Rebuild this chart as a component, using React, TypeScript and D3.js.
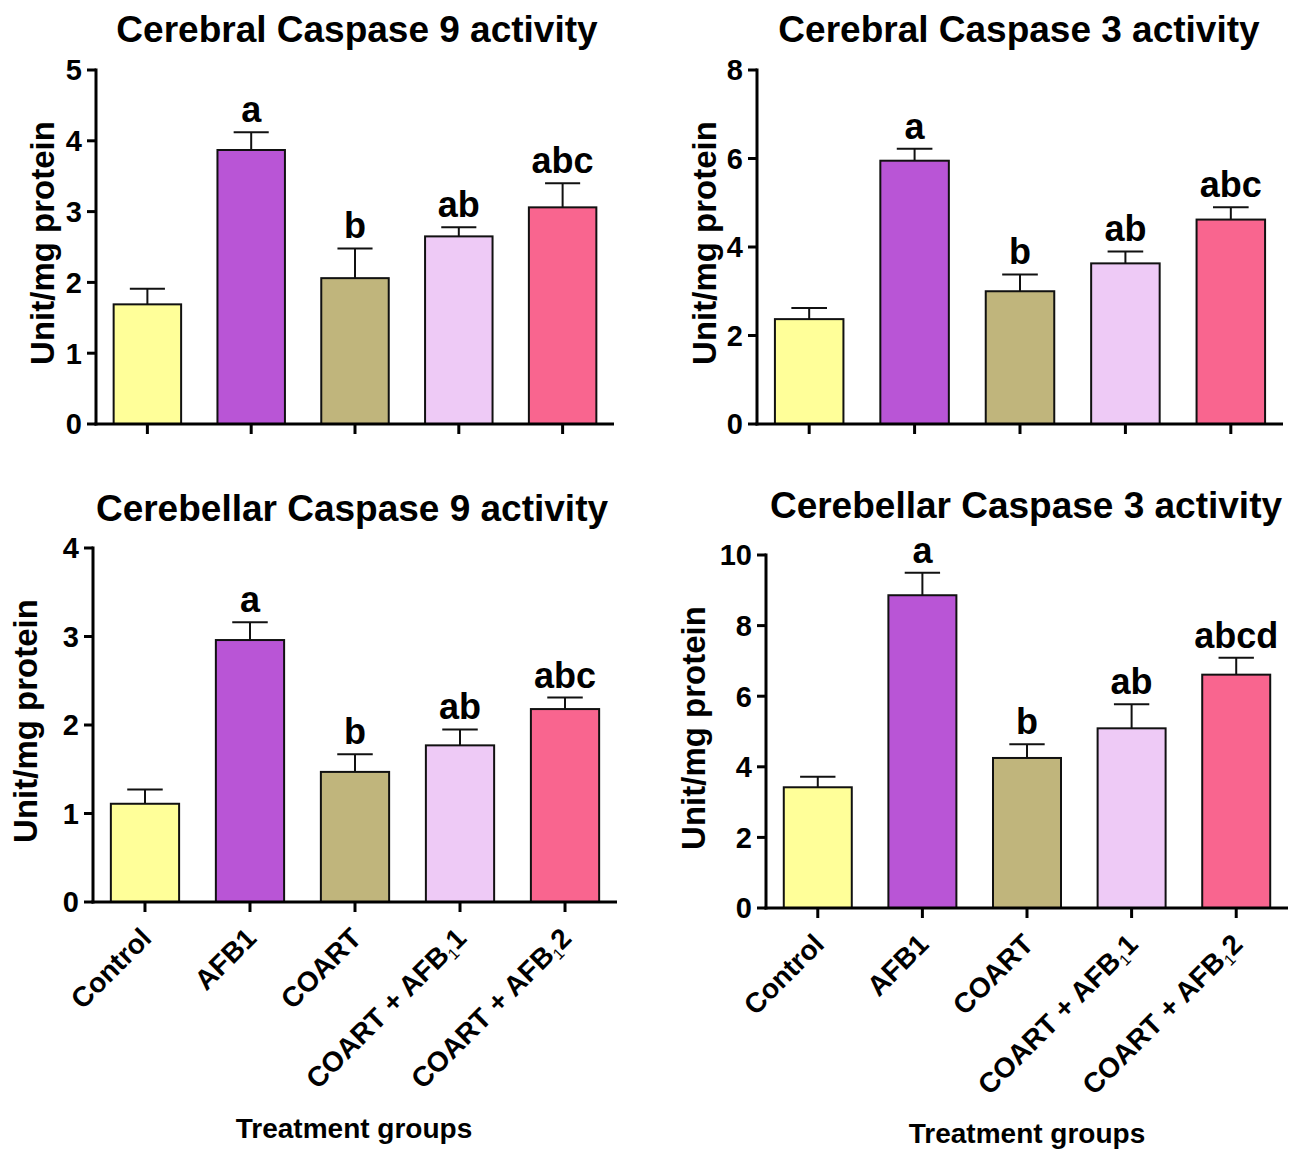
import React from "react";
import * as d3 from "d3";

// ---------- data ----------
const categories = ["Control", "AFB1", "COART", "COART + AFB11", "COART + AFB12"];
// label pieces: [main, subscript, tail]
const categoryLabelParts: [string, string, string][] = [
  ["Control", "", ""],
  ["AFB1", "", ""],
  ["COART", "", ""],
  ["COART + AFB", "1", "1"],
  ["COART + AFB", "1", "2"],
];
const barColors = ["#FFFF99", "#B955D6", "#C0B57C", "#EECAF6", "#F9658F"];

const cerebralCasp9Mean = [1.69, 3.87, 2.06, 2.65, 3.06];
const cerebralCasp9Err = [0.22, 0.25, 0.42, 0.13, 0.34];
const cerebralCasp9Letters = ["", "a", "b", "ab", "abc"];
const cerebralCasp9Ticks = [0, 1, 2, 3, 4, 5];

const cerebralCasp3Mean = [2.37, 5.95, 3.0, 3.63, 4.62];
const cerebralCasp3Err = [0.25, 0.27, 0.38, 0.27, 0.28];
const cerebralCasp3Letters = ["", "a", "b", "ab", "abc"];
const cerebralCasp3Ticks = [0, 2, 4, 6, 8];

const cerebellarCasp9Mean = [1.11, 2.96, 1.47, 1.77, 2.18];
const cerebellarCasp9Err = [0.16, 0.2, 0.2, 0.18, 0.13];
const cerebellarCasp9Letters = ["", "a", "b", "ab", "abc"];
const cerebellarCasp9Ticks = [0, 1, 2, 3, 4];

const cerebellarCasp3Mean = [3.42, 8.86, 4.25, 5.09, 6.61];
const cerebellarCasp3Err = [0.3, 0.64, 0.39, 0.68, 0.48];
const cerebellarCasp3Letters = ["", "a", "b", "ab", "abcd"];
const cerebellarCasp3Ticks = [0, 2, 4, 6, 8, 10];

const yAxisTitle = "Unit/mg protein";
const xAxisTitle = "Treatment groups";

// ---------- layout ----------
const FONT = "'Liberation Sans', Arial, Helvetica, sans-serif";

type Panel = {
  title: string;
  means: number[];
  errs: number[];
  letters: string[];
  ticks: number[];
  x0: number; x1: number; yBottom: number; yTop: number;
  titleX: number; titleY: number;
  ylabX: number; ylabY: number;
  xLabels: boolean; xTitleX: number; xTitleY: number;
};

const panels: Panel[] = [
  {
    title: "Cerebral Caspase 9 activity", means: cerebralCasp9Mean, errs: cerebralCasp9Err,
    letters: cerebralCasp9Letters, ticks: cerebralCasp9Ticks,
    x0: 96, x1: 614, yBottom: 424, yTop: 70, titleX: 357, titleY: 42,
    ylabX: 54, ylabY: 243, xLabels: false, xTitleX: 0, xTitleY: 0,
  },
  {
    title: "Cerebral Caspase 3 activity", means: cerebralCasp3Mean, errs: cerebralCasp3Err,
    letters: cerebralCasp3Letters, ticks: cerebralCasp3Ticks,
    x0: 757, x1: 1283, yBottom: 424, yTop: 70, titleX: 1019, titleY: 42,
    ylabX: 716, ylabY: 243, xLabels: false, xTitleX: 0, xTitleY: 0,
  },
  {
    title: "Cerebellar Caspase 9 activity", means: cerebellarCasp9Mean, errs: cerebellarCasp9Err,
    letters: cerebellarCasp9Letters, ticks: cerebellarCasp9Ticks,
    x0: 93, x1: 617, yBottom: 902, yTop: 548, titleX: 352, titleY: 521,
    ylabX: 37, ylabY: 721, xLabels: true, xTitleX: 354, xTitleY: 1138,
  },
  {
    title: "Cerebellar Caspase 3 activity", means: cerebellarCasp3Mean, errs: cerebellarCasp3Err,
    letters: cerebellarCasp3Letters, ticks: cerebellarCasp3Ticks,
    x0: 766, x1: 1288, yBottom: 908, yTop: 555, titleX: 1026, titleY: 518,
    ylabX: 705, ylabY: 728, xLabels: true, xTitleX: 1027, xTitleY: 1143,
  },
];

function BarPanel({ p }: { p: Panel }) {
  const x = d3.scaleBand<string>().domain(categories).range([p.x0, p.x1]).paddingInner(0.35).paddingOuter(0.17);
  const yMax = p.ticks[p.ticks.length - 1];
  const y = d3.scaleLinear().domain([0, yMax]).range([p.yBottom, p.yTop]);
  const bw = x.bandwidth();
  const capW = bw * 0.52;
  return (
    <g>
      <text x={p.titleX} y={p.titleY} textAnchor="middle" fontSize={37} fontWeight="bold" fontFamily={FONT}>{p.title}</text>
      {/* bars */}
      {categories.map((c, i) => {
        const cx = (x(c) as number) + bw / 2;
        const top = y(p.means[i]);
        const eTop = y(p.means[i] + p.errs[i]);
        return (
          <g key={c}>
            <rect x={x(c)} y={top} width={bw} height={y(0) - top} fill={barColors[i]} stroke="#111" strokeWidth={2} />
            <line x1={cx} x2={cx} y1={top} y2={eTop} stroke="#111" strokeWidth={2} />
            <line x1={cx - capW / 2} x2={cx + capW / 2} y1={eTop} y2={eTop} stroke="#111" strokeWidth={2} />
            {p.letters[i] && (
              <text x={cx} y={eTop - 10} textAnchor="middle" fontSize={36} fontWeight="bold" fontFamily={FONT}>{p.letters[i]}</text>
            )}
          </g>
        );
      })}
      {/* y axis */}
      <line x1={p.x0} x2={p.x0} y1={y(yMax) - 1.5} y2={y(0) + 1.5} stroke="#000" strokeWidth={3} />
      {p.ticks.map((t) => (
        <g key={t}>
          <line x1={p.x0 - 9} x2={p.x0} y1={y(t)} y2={y(t)} stroke="#000" strokeWidth={3} />
          <text x={p.x0 - 14} y={y(t)} dy="0.36em" textAnchor="end" fontSize={29} fontWeight="bold" fontFamily={FONT}>{t}</text>
        </g>
      ))}
      {/* x axis */}
      <line x1={p.x0 - 1.5} x2={p.x1} y1={y(0)} y2={y(0)} stroke="#000" strokeWidth={3} />
      {categories.map((c) => {
        const cx = (x(c) as number) + bw / 2;
        return <line key={c} x1={cx} x2={cx} y1={y(0)} y2={y(0) + 10} stroke="#000" strokeWidth={3} />;
      })}
      {p.xLabels && categories.map((c, i) => {
        const cx = (x(c) as number) + bw / 2;
        const [main, sub, tail] = categoryLabelParts[i];
        return (
          <text key={c} transform={`translate(${cx + 8},${y(0) + 38}) rotate(-45)`} textAnchor="end" fontSize={28} fontWeight="bold" fontFamily={FONT}>
            {main}
            {sub && <tspan fontSize={16} fontWeight="normal" dy={5}>{sub}</tspan>}
            {tail && <tspan dy={-5}>{tail}</tspan>}
          </text>
        );
      })}
      {p.xLabels && (
        <text x={p.xTitleX} y={p.xTitleY} textAnchor="middle" fontSize={28} fontWeight="bold" fontFamily={FONT}>{xAxisTitle}</text>
      )}
      <text transform={`translate(${p.ylabX},${p.ylabY}) rotate(-90)`} textAnchor="middle" fontSize={33} fontWeight="bold" fontFamily={FONT}>{yAxisTitle}</text>
    </g>
  );
}

export default function App() {
  return (
    <svg width={1294} height={1149} style={{ position: "absolute", left: 0, top: 0, background: "#fff" }}>
      <rect width={1294} height={1149} fill="#fff" />
      {panels.map((p) => <BarPanel key={p.title} p={p} />)}
    </svg>
  );
}
